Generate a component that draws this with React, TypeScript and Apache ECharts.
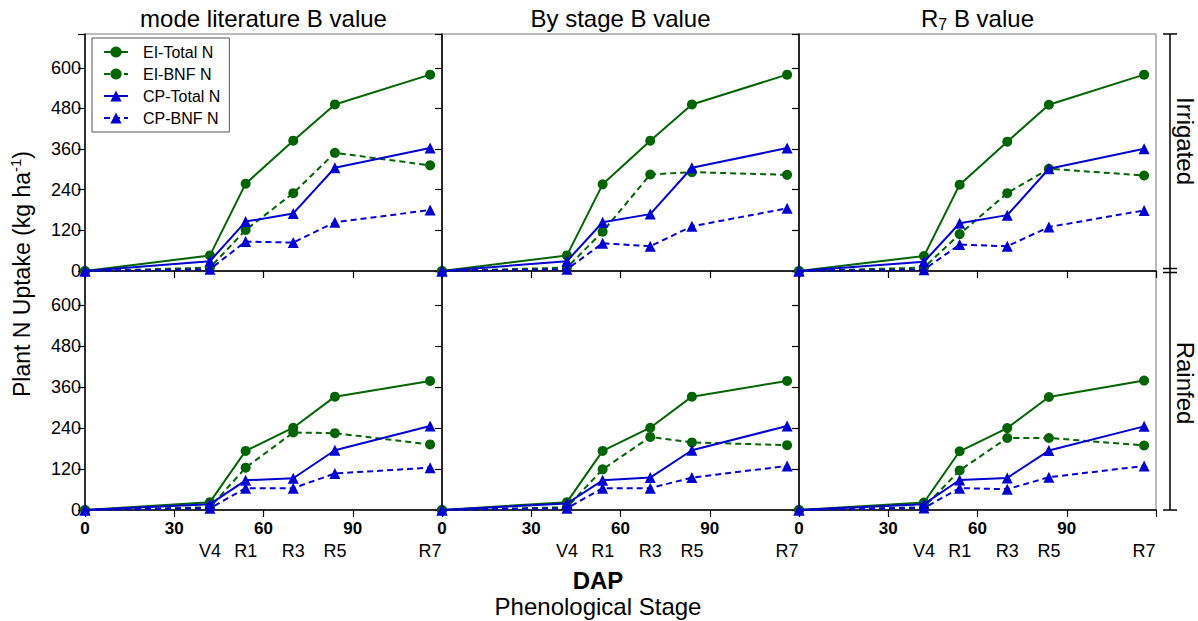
import React, { useEffect, useRef } from "react";
import * as echarts from "echarts";

const FONT = "'Liberation Sans', Arial, Helvetica, sans-serif";
const GREEN = "#006400";
const BLUE = "#0000d0";

// Days after planting of each sampled stage and the stage names
const stageDays = [0, 42, 54, 70, 84, 116];
const stageNames = ["", "V4", "R1", "R3", "R5", "R7"];
const xTicks = [0, 30, 60, 90];
const yTicks = [0, 120, 240, 360, 480, 600];

const panelTitles = ["mode literature B value", "By stage B value", "R7 B value"];
const rowNames = ["Irrigated", "Rainfed"];
const seriesNames = ["EI-Total N", "EI-BNF N", "CP-Total N", "CP-BNF N"];

// Irrigated – mode literature B value
const irrModeEITotal = [0, 46, 258, 385, 492, 580];
const irrModeEIBNF = [0, 10, 121, 230, 349, 312];
const irrModeCPTotal = [0, 29, 146, 170, 305, 363];
const irrModeCPBNF = [0, 5, 87, 84, 144, 180];

// Irrigated – by stage B value
const irrStageEITotal = [0, 46, 256, 385, 492, 580];
const irrStageEIBNF = [0, 10, 116, 285, 292, 284];
const irrStageCPTotal = [0, 29, 144, 168, 305, 363];
const irrStageCPBNF = [0, 5, 82, 73, 132, 185];

// Irrigated – R7 B value
const irrR7EITotal = [0, 44, 255, 382, 491, 580];
const irrR7EIBNF = [0, 10, 109, 230, 302, 282];
const irrR7CPTotal = [0, 27, 141, 165, 302, 361];
const irrR7CPBNF = [0, 4, 78, 73, 130, 179];

// Rainfed – mode literature B value
const rfModeEITotal = [0, 23, 173, 241, 332, 378];
const rfModeEIBNF = [0, 8, 124, 227, 225, 192];
const rfModeCPTotal = [0, 17, 87, 93, 175, 246];
const rfModeCPBNF = [0, 5, 64, 64, 107, 124];

// Rainfed – by stage B value
const rfStageEITotal = [0, 23, 173, 241, 332, 378];
const rfStageEIBNF = [0, 8, 119, 214, 198, 190];
const rfStageCPTotal = [0, 19, 87, 95, 175, 246];
const rfStageCPBNF = [0, 5, 64, 64, 95, 129];

// Rainfed – R7 B value
const rfR7EITotal = [0, 22, 172, 240, 331, 379];
const rfR7EIBNF = [0, 8, 116, 211, 211, 189];
const rfR7CPTotal = [0, 17, 88, 94, 174, 245];
const rfR7CPBNF = [0, 6, 64, 61, 96, 129];

const panelData = [
  [irrModeEITotal, irrModeEIBNF, irrModeCPTotal, irrModeCPBNF],
  [irrStageEITotal, irrStageEIBNF, irrStageCPTotal, irrStageCPBNF],
  [irrR7EITotal, irrR7EIBNF, irrR7CPTotal, irrR7CPBNF],
  [rfModeEITotal, rfModeEIBNF, rfModeCPTotal, rfModeCPBNF],
  [rfStageEITotal, rfStageEIBNF, rfStageCPTotal, rfStageCPBNF],
  [rfR7EITotal, rfR7EIBNF, rfR7CPTotal, rfR7CPBNF],
];

const seriesStyle = [
  { color: GREEN, type: "solid", symbol: "circle", size: 10 },
  { color: GREEN, type: "dashed", symbol: "circle", size: 10 },
  { color: BLUE, type: "solid", symbol: "triangle", size: 11 },
  { color: BLUE, type: "dashed", symbol: "triangle", size: 11 },
];

const colLeft = [85, 442, 799];
const colWidth = 357;
const rowTop = [34, 271];
const rowHeight = [237, 239];

function buildOption() {
  const grid: any[] = [];
  const xAxis: any[] = [];
  const yAxis: any[] = [];
  const series: any[] = [];

  for (let p = 0; p < 6; p++) {
    const row = Math.floor(p / 3);
    const col = p % 3;
    grid.push({
      left: colLeft[col],
      top: rowTop[row],
      width: colWidth,
      height: rowHeight[row],
      show: true,
      borderColor: "#777",
      borderWidth: 1,
      backgroundColor: "transparent",
    });
    xAxis.push({
      type: "value",
      gridIndex: p,
      min: 0,
      max: 120,
      interval: 30,
      axisLine: { show: true, lineStyle: { color: "#000", width: 1.5 } },
      axisTick: { show: true, inside: false, length: 7, lineStyle: { color: "#000", width: 1.2 } },
      axisLabel: {
        show: row === 1,
        margin: 10,
        fontSize: 17,
        fontWeight: "bold",
        color: "#000",
        fontFamily: FONT,
        formatter: (v: number) => (xTicks.indexOf(v) >= 0 ? String(v) : ""),
      },
      splitLine: { show: false },
    });
    yAxis.push({
      type: "value",
      gridIndex: p,
      min: 0,
      max: 700,
      interval: 120,
      axisLine: { show: true, lineStyle: { color: "#000", width: 1.5 } },
      axisTick: { show: true, inside: false, length: 7, lineStyle: { color: "#000", width: 1.2 } },
      axisLabel: {
        show: col === 0,
        margin: 4,
        fontSize: 18,
        color: "#000",
        fontFamily: FONT,
        formatter: (v: number) => (yTicks.indexOf(v) >= 0 ? String(v) : ""),
      },
      splitLine: { show: false },
    });
    panelData[p].forEach((vals, s) => {
      const st = seriesStyle[s];
      series.push({
        name: seriesNames[s],
        type: "line",
        xAxisIndex: p,
        yAxisIndex: p,
        data: stageDays.map((d, i) => [d, vals[i]]),
        symbol: st.symbol,
        symbolSize: st.size,
        showAllSymbol: true,
        clip: false,
        itemStyle: { color: st.color },
        lineStyle: { color: st.color, width: 2, type: st.type === "dashed" ? [6, 4] : "solid" },
        emphasis: { disabled: true },
        z: 2 + s,
      });
    });
  }
  // stage-name axes under the bottom panels
  for (let col = 0; col < 3; col++) {
    xAxis.push({
      type: "value",
      gridIndex: 3 + col,
      min: 0,
      max: 120,
      position: "bottom",
      offset: 22,
      axisLine: { show: false },
      axisTick: { show: false },
      splitLine: { show: false },
      axisLabel: {
        show: true,
        customValues: stageDays.slice(1),
        margin: 10,
        fontSize: 18,
        color: "#000",
        fontFamily: FONT,
        formatter: (v: number) => {
          const i = stageDays.indexOf(v);
          return i >= 0 ? stageNames[i] : "";
        },
      },
    });
  }

  const graphic: any[] = [];
  const titleCenters = colLeft.map((l) => l + colWidth / 2);
  panelTitles.forEach((t, i) => {
    const isR7 = t.startsWith("R7");
    graphic.push({
      type: "text",
      x: titleCenters[i],
      y: 18,
      style: {
        text: isR7 ? "{a|R}{s|7}{a| B value}" : "{a|" + t + "}",
        align: "center",
        verticalAlign: "middle",
        fontFamily: FONT,
        fontSize: 24,
        fill: "#000",
        rich: {
          a: { fontFamily: FONT, fontSize: 24, fill: "#000", lineHeight: 29 },
          s: { fontFamily: FONT, fontSize: 16, fill: "#000", lineHeight: 16, verticalAlign: "bottom" },
        },
      },
    });
  });
  graphic.push({
    type: "text",
    x: 22,
    y: 274,
    rotation: Math.PI / 2,
    style: {
      text: "{a|Plant N Uptake (kg ha}{s|-1}{a|)}",
      align: "center",
      verticalAlign: "middle",
      fontFamily: FONT,
      fontSize: 23,
      fill: "#000",
      rich: {
        a: { fontFamily: FONT, fontSize: 23, fill: "#000", lineHeight: 28 },
        s: { fontFamily: FONT, fontSize: 15, fill: "#000", lineHeight: 15, verticalAlign: "top" },
      },
    },
  });
  graphic.push({
    type: "text",
    x: 598,
    y: 580,
    style: { text: "DAP", align: "center", verticalAlign: "middle", fontFamily: FONT, fontSize: 24, fontWeight: "bold", fill: "#000" },
  });
  graphic.push({
    type: "text",
    x: 598,
    y: 606,
    style: { text: "Phenological Stage", align: "center", verticalAlign: "middle", fontFamily: FONT, fontSize: 24, fill: "#000" },
  });
  // right bracket
  const bx = 1170;
  const lineStyle = { stroke: "#000", lineWidth: 1.5 };
  graphic.push({ type: "line", shape: { x1: bx, y1: 34, x2: bx, y2: 510 }, style: lineStyle });
  [34, 268.5, 272.5, 510].forEach((y) => {
    graphic.push({ type: "line", shape: { x1: bx - 7, y1: y, x2: bx + 7, y2: y }, style: lineStyle });
  });
  graphic.push({
    type: "text",
    x: 1185,
    y: 141,
    rotation: -Math.PI / 2,
    style: { text: rowNames[0], align: "center", verticalAlign: "middle", fontFamily: FONT, fontSize: 24, fill: "#000" },
  });
  graphic.push({
    type: "text",
    x: 1185,
    y: 383,
    rotation: -Math.PI / 2,
    style: { text: rowNames[1], align: "center", verticalAlign: "middle", fontFamily: FONT, fontSize: 24, fill: "#000" },
  });

  return {
    animation: false,
    backgroundColor: "#fff",
    grid,
    xAxis,
    yAxis,
    series,
    graphic,
    legend: {
      data: seriesNames,
      orient: "vertical",
      left: 92,
      top: 38,
      padding: [6, 9, 6, 11],
      itemGap: 6,
      itemWidth: 24,
      itemHeight: 14,
      borderColor: "#555",
      borderWidth: 1,
      backgroundColor: "#fff",
      selectedMode: false,
      textStyle: { fontFamily: FONT, fontSize: 16, color: "#000", padding: [0, 0, 0, 10] },
      z: 10,
    },
  };
}

export default function App() {
  const ref = useRef<HTMLDivElement>(null);
  useEffect(() => {
    const chart = echarts.init(ref.current!, null, { renderer: "svg" });
    chart.setOption(buildOption() as any);
    return () => chart.dispose();
  }, []);
  return (
    <div
      ref={ref}
      style={{ position: "absolute", left: 0, top: 0, width: 1198, height: 621, background: "#fff" }}
    />
  );
}
